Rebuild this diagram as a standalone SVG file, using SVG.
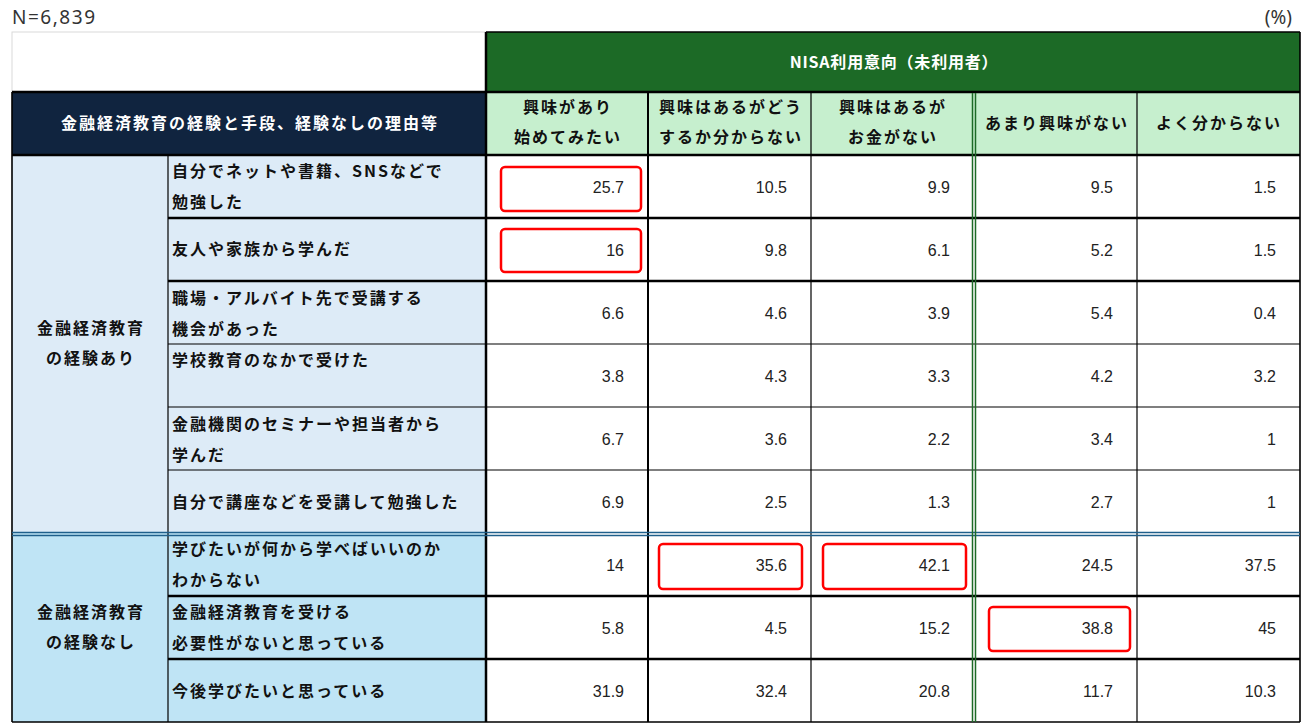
<svg xmlns="http://www.w3.org/2000/svg" width="1312" height="725" viewBox="0 0 1312 725">
<style>
.jp{font-family:"Noto Sans CJK JP","Noto Sans",sans-serif;font-weight:bold;font-size:16px;letter-spacing:2px;fill:#111}
.wh{fill:#ffffff}
.mid{text-anchor:middle}
.num{font-family:"Liberation Sans",Arial,sans-serif;font-size:16px;fill:#222;text-anchor:end}
.note{font-family:"Noto Sans","DejaVu Sans",sans-serif;font-size:19px;fill:#333}
.thick{stroke:#000;stroke-width:2.5;fill:none}
.thin{stroke:#000;stroke-width:1.2;fill:none}
.mthin{stroke:#000;stroke-width:1.6;fill:none}
.dg{stroke:#1C6A26;stroke-width:1.5;fill:none}
.db{stroke:#1F5F8B;stroke-width:1.5;fill:none}
.hl{fill:none;stroke:#FF0000;stroke-width:2.5}
</style>
<rect width="1312" height="725" fill="#ffffff"/>
<text class="note" x="12" y="24" textLength="83" lengthAdjust="spacing">N=6,839</text>
<text class="note" x="1292" y="24" text-anchor="end">(%)</text>

<g id="backgrounds">
<rect x="12" y="32" width="474" height="60" fill="#ffffff" stroke="#d9d9d9" stroke-width="1"/>
<rect x="486" y="32" width="814" height="60" fill="#1C6A26"/>
<rect x="12" y="92" width="474" height="63" fill="#10243F"/>
<rect x="486" y="92" width="814" height="63" fill="#C6EFCE"/>
<rect x="12" y="155" width="474" height="378" fill="#DDEBF7"/>
<rect x="12" y="533" width="474" height="189" fill="#BFE4F5"/>
</g>

<g id="header">
<text class="jp wh mid" x="894" y="68" style="letter-spacing:0.8px">NISA利用意向（未利用者）</text>
<text class="jp wh mid" x="250" y="129">金融経済教育の経験と手段、経験なしの理由等</text>
<g id="col1-head"><text class="jp mid" x="568" y="113">興味があり</text><text class="jp mid" x="568" y="143">始めてみたい</text></g>
<g id="col2-head"><text class="jp mid" x="731" y="113">興味はあるがどう</text><text class="jp mid" x="731" y="143">するか分からない</text></g>
<g id="col3-head"><text class="jp mid" x="893" y="113">興味はあるが</text><text class="jp mid" x="893" y="143">お金がない</text></g>
<g id="col4-head"><text class="jp mid" x="1057" y="129">あまり興味がない</text></g>
<g id="col5-head"><text class="jp mid" x="1219" y="129">よく分からない</text></g>
</g>

<g id="group-yes"><text class="jp mid" x="91" y="334">金融経済教育</text><text class="jp mid" x="91" y="364">の経験あり</text></g>
<g id="group-no"><text class="jp mid" x="91" y="618">金融経済教育</text><text class="jp mid" x="91" y="648">の経験なし</text></g>

<g id="row1"><text class="jp" x="172" y="177">自分でネットや書籍、SNSなどで</text><text class="jp" x="172" y="208">勉強した</text>
<text class="num" x="624" y="192.5">25.7</text><text class="num" x="787" y="192.5">10.5</text><text class="num" x="950" y="192.5">9.9</text><text class="num" x="1113" y="192.5">9.5</text><text class="num" x="1276" y="192.5">1.5</text></g>
<g id="row2"><text class="jp" x="172" y="255">友人や家族から学んだ</text>
<text class="num" x="624" y="255.5">16</text><text class="num" x="787" y="255.5">9.8</text><text class="num" x="950" y="255.5">6.1</text><text class="num" x="1113" y="255.5">5.2</text><text class="num" x="1276" y="255.5">1.5</text></g>
<g id="row3"><text class="jp" x="172" y="304">職場・アルバイト先で受講する</text><text class="jp" x="172" y="335">機会があった</text>
<text class="num" x="624" y="318.5">6.6</text><text class="num" x="787" y="318.5">4.6</text><text class="num" x="950" y="318.5">3.9</text><text class="num" x="1113" y="318.5">5.4</text><text class="num" x="1276" y="318.5">0.4</text></g>
<g id="row4"><text class="jp" x="172" y="366">学校教育のなかで受けた</text>
<text class="num" x="624" y="381.5">3.8</text><text class="num" x="787" y="381.5">4.3</text><text class="num" x="950" y="381.5">3.3</text><text class="num" x="1113" y="381.5">4.2</text><text class="num" x="1276" y="381.5">3.2</text></g>
<g id="row5"><text class="jp" x="172" y="430">金融機関のセミナーや担当者から</text><text class="jp" x="172" y="461">学んだ</text>
<text class="num" x="624" y="444.5">6.7</text><text class="num" x="787" y="444.5">3.6</text><text class="num" x="950" y="444.5">2.2</text><text class="num" x="1113" y="444.5">3.4</text><text class="num" x="1276" y="444.5">1</text></g>
<g id="row6"><text class="jp" x="172" y="508">自分で講座などを受講して勉強した</text>
<text class="num" x="624" y="507.5">6.9</text><text class="num" x="787" y="507.5">2.5</text><text class="num" x="950" y="507.5">1.3</text><text class="num" x="1113" y="507.5">2.7</text><text class="num" x="1276" y="507.5">1</text></g>
<g id="row7"><text class="jp" x="172" y="555">学びたいが何から学べばいいのか</text><text class="jp" x="172" y="586">わからない</text>
<text class="num" x="624" y="570.5">14</text><text class="num" x="787" y="570.5">35.6</text><text class="num" x="950" y="570.5">42.1</text><text class="num" x="1113" y="570.5">24.5</text><text class="num" x="1276" y="570.5">37.5</text></g>
<g id="row8"><text class="jp" x="172" y="618">金融経済教育を受ける</text><text class="jp" x="172" y="649">必要性がないと思っている</text>
<text class="num" x="624" y="633.5">5.8</text><text class="num" x="787" y="633.5">4.5</text><text class="num" x="950" y="633.5">15.2</text><text class="num" x="1113" y="633.5">38.8</text><text class="num" x="1276" y="633.5">45</text></g>
<g id="row9"><text class="jp" x="172" y="697">今後学びたいと思っている</text>
<text class="num" x="624" y="696.5">31.9</text><text class="num" x="787" y="696.5">32.4</text><text class="num" x="950" y="696.5">20.8</text><text class="num" x="1113" y="696.5">11.7</text><text class="num" x="1276" y="696.5">10.3</text></g>

<g id="grid">
<path class="mthin" d="M12 92V722M1300 32V722M486 32H1300M12 722H1300"/>
<path class="thick" d="M12 92H1300M12 155H1300M486 32V722"/>
<path class="thin" d="M168 155V722M811 92V722M1137 92V722"/>
<path class="mthin" d="M648 92V722" style="stroke-width:2"/>
<path class="thick" d="M168 218H1300M168 281H1300M168 596H1300M168 659H1300"/>
<path class="thin" d="M168 344H1300M168 407H1300M168 470H1300"/>
<path class="db" d="M12 532.5H1300M12 535.5H1300"/>
<path class="dg" d="M972.5 93V722M975.5 93V722"/>
</g>

<g id="highlights">
<rect class="hl" x="501" y="167" width="140" height="44" rx="4"/>
<rect class="hl" x="501" y="229" width="140" height="43" rx="4"/>
<rect class="hl" x="659" y="544" width="143" height="45" rx="4"/>
<rect class="hl" x="823" y="544" width="143" height="45" rx="4"/>
<rect class="hl" x="989" y="607" width="141" height="44" rx="4"/>
</g>

<g id="connectors"></g>
</svg>
